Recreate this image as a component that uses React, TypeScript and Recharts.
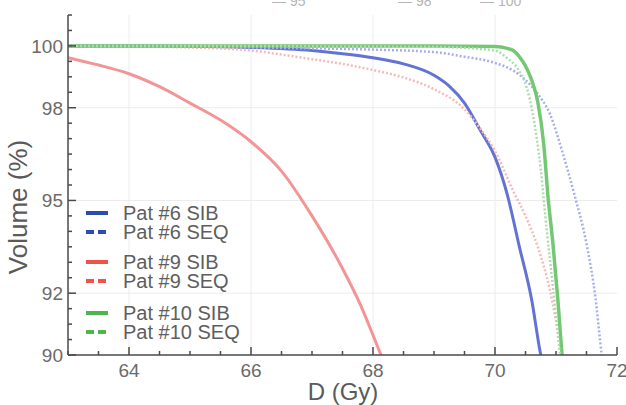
import React from 'react';
import { LineChart, Line, XAxis, YAxis, ReferenceLine } from 'recharts';

// dose (Gy) / volume (%) pairs
const pat6Sib = [
  { d: 63, v: 100 }, { d: 65, v: 99.99 }, { d: 66, v: 99.95 }, { d: 67, v: 99.85 },
  { d: 67.5, v: 99.75 }, { d: 68, v: 99.62 }, { d: 68.5, v: 99.42 }, { d: 69, v: 99.05 },
  { d: 69.25, v: 98.7 }, { d: 69.5, v: 98.15 }, { d: 69.75, v: 97.3 }, { d: 70, v: 96.4 },
  { d: 70.2, v: 95.2 }, { d: 70.4, v: 93.5 }, { d: 70.6, v: 91.8 }, { d: 70.75, v: 90.0 },
  { d: 70.85, v: 89.2 },
];
const pat6Seq = [
  { d: 63, v: 100 }, { d: 65, v: 99.98 }, { d: 66, v: 99.95 }, { d: 67, v: 99.92 },
  { d: 68, v: 99.88 }, { d: 69, v: 99.8 }, { d: 69.5, v: 99.65 }, { d: 70, v: 99.45 },
  { d: 70.3, v: 99.2 }, { d: 70.5, v: 98.9 }, { d: 70.7, v: 98.45 }, { d: 70.9, v: 97.8 },
  { d: 71.1, v: 96.6 }, { d: 71.3, v: 95.2 }, { d: 71.5, v: 93.6 }, { d: 71.65, v: 91.8 },
  { d: 71.75, v: 90.0 }, { d: 71.8, v: 89.3 },
];
const pat9Sib = [
  { d: 63, v: 99.62 }, { d: 63.5, v: 99.38 }, { d: 64, v: 99.1 }, { d: 64.5, v: 98.68 },
  { d: 65, v: 98.15 }, { d: 65.5, v: 97.6 }, { d: 66, v: 96.9 }, { d: 66.5, v: 95.95 },
  { d: 67, v: 94.5 }, { d: 67.5, v: 92.8 }, { d: 67.8, v: 91.6 }, { d: 68.1, v: 90.15 },
  { d: 68.3, v: 89.2 },
];
const pat9Seq = [
  { d: 63, v: 100 }, { d: 64, v: 99.98 }, { d: 65, v: 99.95 }, { d: 66, v: 99.85 },
  { d: 66.5, v: 99.72 }, { d: 67, v: 99.57 }, { d: 67.5, v: 99.42 }, { d: 68, v: 99.22 },
  { d: 68.5, v: 98.98 }, { d: 69, v: 98.6 }, { d: 69.5, v: 97.95 }, { d: 69.75, v: 97.35 },
  { d: 70, v: 96.6 }, { d: 70.3, v: 95.3 }, { d: 70.5, v: 94.5 }, { d: 70.7, v: 93.5 },
  { d: 70.9, v: 92.1 }, { d: 71.07, v: 90.3 }, { d: 71.15, v: 89.3 },
];
const pat10Sib = [
  { d: 63, v: 100 }, { d: 66, v: 100 }, { d: 68, v: 100 }, { d: 69, v: 100 },
  { d: 70, v: 99.98 }, { d: 70.2, v: 99.92 }, { d: 70.3, v: 99.85 }, { d: 70.4, v: 99.65 },
  { d: 70.5, v: 99.35 }, { d: 70.6, v: 98.9 }, { d: 70.7, v: 98.2 }, { d: 70.8, v: 96.8 },
  { d: 70.87, v: 95.1 }, { d: 70.95, v: 93.6 }, { d: 71.03, v: 91.8 }, { d: 71.1, v: 90.0 },
  { d: 71.15, v: 89.0 },
];
const pat10Seq = [
  { d: 63, v: 100 }, { d: 69, v: 99.97 }, { d: 70, v: 99.85 }, { d: 70.2, v: 99.6 },
  { d: 70.36, v: 99.3 }, { d: 70.52, v: 98.65 }, { d: 70.62, v: 97.8 }, { d: 70.75, v: 96.0 },
  { d: 70.85, v: 94.0 }, { d: 70.95, v: 92.2 }, { d: 71.05, v: 90.3 }, { d: 71.1, v: 89.5 },
];

const seriesNames = ['Pat #6 SIB', 'Pat #6 SEQ', 'Pat #9 SIB', 'Pat #9 SEQ', 'Pat #10 SIB', 'Pat #10 SEQ'];

const xLabelTicks = [64, 66, 68, 70, 72];
const xAllTicks = [63, 63.5, 64, 64.5, 65, 65.5, 66, 66.5, 67, 67.5, 68, 68.5, 69, 69.5, 70, 70.5, 71, 71.5, 72];
const yLabelTicks = [90, 92, 95, 98, 100];
const yAllTicks = [90, 90.5, 91, 91.5, 92, 92.5, 93, 93.5, 94, 94.5, 95, 95.5, 96, 96.5, 97, 97.5, 98, 98.5, 99, 99.5, 100, 100.5, 101];
const gridX = [64, 66, 68, 70];
const gridY = [92, 95, 98];
const topCutLabels = ['95', '98', '100'];

const series = [
  { data: pat6Sib, stroke: '#6373d3', key: '#2c4cb4', dash: false, width: 3 },
  { data: pat6Seq, stroke: '#a7aeea', key: '#2c4cb4', dash: true, width: 2.5 },
  { data: pat9Sib, stroke: '#f39595', key: '#f0524a', dash: false, width: 3 },
  { data: pat9Seq, stroke: '#f5baba', key: '#f0524a', dash: true, width: 2.5 },
  { data: pat10Sib, stroke: '#74c874', key: '#4cb54c', dash: false, width: 3.5 },
  { data: pat10Seq, stroke: '#addcad', key: '#4cb54c', dash: true, width: 2.5 },
];

const FRAME = '#4a4a4a';
const TICK_TEXT = '#6a6a6a';
const FONT = '"Liberation Sans", Arial, sans-serif';

const BottomTick = (props: any) => {
  const { x, y, payload } = props;
  const major = xLabelTicks.includes(payload.value);
  return (
    <g>
      <line x1={x} y1={y} x2={x} y2={y - (major ? 8 : 4)} stroke={FRAME} strokeWidth={1.5} />
      {major && (
        <text x={x} y={y + 22} textAnchor="middle" fontSize={19} fill={TICK_TEXT} fontFamily={FONT}>
          {payload.value}
        </text>
      )}
    </g>
  );
};

const TopTick = (props: any) => {
  const { x, y, payload } = props;
  const major = xLabelTicks.includes(payload.value);
  return <line x1={x} y1={y} x2={x} y2={y + (major ? 8 : 4)} stroke={FRAME} strokeWidth={1.5} />;
};

const LeftTick = (props: any) => {
  const { x, y, payload } = props;
  const major = yLabelTicks.includes(payload.value);
  return (
    <g>
      <line x1={x} y1={y} x2={x + (major ? 8 : 4)} y2={y} stroke={FRAME} strokeWidth={1.5} />
      {major && (
        <text x={x - 5} y={y} dy="0.36em" textAnchor="end" fontSize={19} fill={TICK_TEXT} fontFamily={FONT}>
          {payload.value}
        </text>
      )}
    </g>
  );
};

const RightTick = (props: any) => {
  const { x, y, payload } = props;
  const major = yLabelTicks.includes(payload.value);
  return <line x1={x} y1={y} x2={x - (major ? 8 : 4)} y2={y} stroke={FRAME} strokeWidth={1.5} />;
};

export default function App() {
  return (
    <div style={{ position: 'absolute', left: 0, top: 0, width: 626, height: 405, background: '#fff', fontFamily: FONT }}>
      <LineChart width={626} height={405} margin={{ top: 15, right: 9, left: 0, bottom: 0 }}>
        <XAxis
          xAxisId="b"
          type="number"
          dataKey="d"
          domain={[63, 72]}
          ticks={xAllTicks}
          interval={0}
          allowDataOverflow
          height={50}
          tickSize={0}
          tickMargin={0}
          tickLine={false}
          tick={BottomTick}
          axisLine={{ stroke: FRAME, strokeWidth: 1.5 }}
        />
        <XAxis
          xAxisId="t"
          orientation="top"
          type="number"
          dataKey="d"
          domain={[63, 72]}
          ticks={xAllTicks}
          interval={0}
          allowDataOverflow
          height={0}
          tickSize={0}
          tickMargin={0}
          tickLine={false}
          tick={TopTick}
          axisLine={{ stroke: FRAME, strokeWidth: 1.5 }}
        />
        <YAxis
          yAxisId="l"
          type="number"
          domain={[90, 101]}
          ticks={yAllTicks}
          interval={0}
          allowDataOverflow
          width={68}
          tickSize={0}
          tickMargin={0}
          tickLine={false}
          tick={LeftTick}
          axisLine={{ stroke: FRAME, strokeWidth: 1.5 }}
        />
        <YAxis
          yAxisId="r"
          orientation="right"
          type="number"
          domain={[90, 101]}
          ticks={yAllTicks}
          interval={0}
          allowDataOverflow
          width={0}
          tickSize={0}
          tickMargin={0}
          tickLine={false}
          tick={RightTick}
          axisLine={{ stroke: FRAME, strokeWidth: 1.5 }}
        />
        {gridX.map((g) => (
          <ReferenceLine key={'gx' + g} x={g} xAxisId="b" yAxisId="l" stroke="#ececec" strokeWidth={1} />
        ))}
        {gridY.map((g) => (
          <ReferenceLine key={'gy' + g} y={g} xAxisId="b" yAxisId="l" stroke="#ececec" strokeWidth={1} />
        ))}
        {series.map((s, i) => (
          <Line
            key={seriesNames[i]}
            name={seriesNames[i]}
            xAxisId="b"
            yAxisId="l"
            data={s.data}
            dataKey="v"
            type="monotone"
            stroke={s.stroke}
            strokeWidth={s.width}
            strokeDasharray={s.dash ? '2 2' : undefined}
            dot={false}
            isAnimationActive={false}
          />
        ))}
      </LineChart>

      <svg width={626} height={405} style={{ position: 'absolute', left: 0, top: 0, pointerEvents: 'none' }}>
        {topCutLabels.map((t, i) => (
          <text key={t} x={[272, 398, 480][i]} y={6} fontSize={14} fill="#b5b5b5" fontFamily={FONT}>
            {'— ' + t}
          </text>
        ))}
        <text
          x={0}
          y={0}
          transform="translate(27,207) rotate(-90)"
          textAnchor="middle"
          fontSize={26}
          fill="#5a5a5a"
          fontFamily={FONT}
        >
          Volume (%)
        </text>
        <text x={343} y={400} textAnchor="middle" fontSize={24} fill="#5a5a5a" fontFamily={FONT}>
          D (Gy)
        </text>
        {seriesNames.map((n, i) => {
          const y = [213, 232, 262, 281, 313, 332][i];
          return (
            <g key={n}>
              <line
                x1={86}
                x2={108}
                y1={y}
                y2={y}
                stroke={series[i].key}
                strokeWidth={4}
                strokeDasharray={series[i].dash ? '8 4' : undefined}
              />
              <text x={123} y={y} dy="0.36em" fontSize={20} fill="#5e5e5e" fontFamily={FONT}>
                {n}
              </text>
            </g>
          );
        })}
      </svg>
    </div>
  );
}
